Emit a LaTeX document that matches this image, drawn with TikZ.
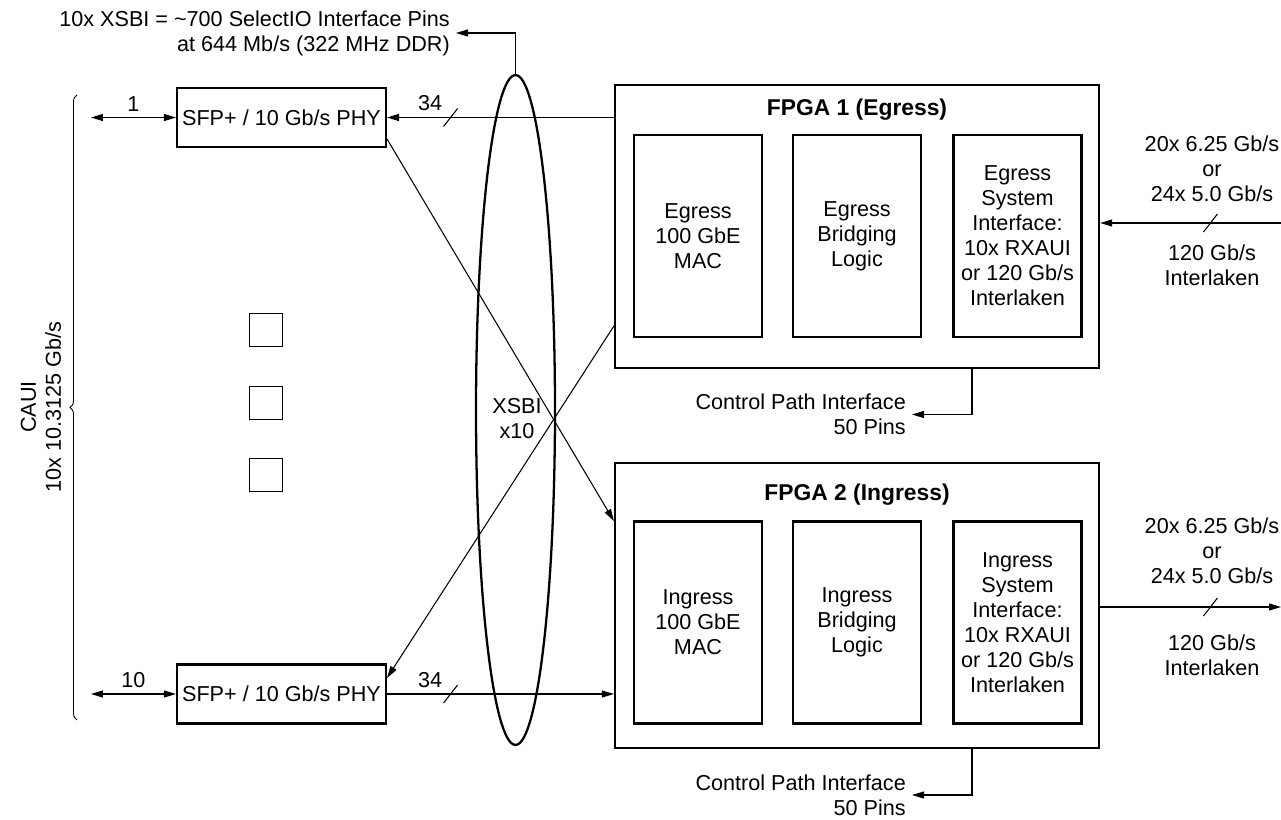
\documentclass[tikz,border=0pt]{standalone}
\usepackage{fontspec}
\setmainfont{Liberation Sans}
\usetikzlibrary{
  arrows.meta,
  positioning,
  shapes.geometric,
  calc,
  decorations.pathreplacing
}

\newcommand{\busmark}[1]{\draw[line width=0.6pt] ($(#1)+(-7,9)$) -- ($(#1)+(7,-9)$);}

\begin{document}
\begin{tikzpicture}[
  x=0.02cm, y=-0.02cm,
  font=\fontsize{12.3}{14.2}\selectfont,
  phy/.style={draw, line width=1.2pt, minimum width=4.18cm, minimum height=1.18cm, inner sep=0pt},
  fpga/.style={draw, line width=1.3pt, minimum width=9.68cm, minimum height=#1, inner sep=0pt},
  unit/.style={draw, line width=1.2pt, minimum width=2.56cm, minimum height=4.04cm,
               align=center, inner sep=0pt},
  dots/.style={draw, line width=0.9pt, minimum size=0.66cm, inner sep=0pt},
  title/.style={font=\fontsize{13}{15}\selectfont\bfseries},
  note/.style={align=center},
  arrow/.style={-{Triangle[length=2.4mm,width=1.4mm]}, line width=0.6pt},
  twoway/.style={{Triangle[length=2.4mm,width=1.4mm]}-{Triangle[length=2.4mm,width=1.4mm]}, line width=0.6pt},
]
  \useasboundingbox (0,0) rectangle (1281,820);

  \node[phy] (sfpA) at (281.5,117.5) {SFP+ / 10 Gb/s PHY};
  \node[phy] (sfpB) at (281.5,694) {SFP+ / 10 Gb/s PHY};
  \node[dots] (sq1) at (266,330) {};
  \node[dots] (sq2) at (266,403) {};
  \node[dots] (sq3) at (266,475) {};

  \node[fpga=5.66cm] (fpgaA) at (857,226.5) {};
  \node[title] (titleA) at (857,110) {FPGA 1 (Egress)};
  \node[unit] (macA) at (698,236) {Egress\\100 GbE\\MAC};
  \node[unit] (bridgeA) at (857,236) {Egress\\Bridging\\Logic};
  \node[unit] (sysA) at (1017.5,236) {Egress\\System\\Interface:\\10x RXAUI\\or 120 Gb/s\\Interlaken};

  \node[fpga=5.70cm] (fpgaB) at (857,605.5) {};
  \node[title] (titleB) at (857,495) {FPGA 2 (Ingress)};
  \node[unit] (macB) at (698,622.5) {Ingress\\100 GbE\\MAC};
  \node[unit] (bridgeB) at (857,622.5) {Ingress\\Bridging\\Logic};
  \node[unit] (sysB) at (1017.5,622.5) {Ingress\\System\\Interface:\\10x RXAUI\\or 120 Gb/s\\Interlaken};

  \node[draw, ellipse, line width=1.3pt, minimum width=1.58cm, minimum height=13.4cm,
        inner sep=0pt] (xsbi) at (515.5,410) {};
  \node[note] (xsbilbl) at (517,418.5) {XSBI\\x10};

  % line side
  \coordinate (capA) at (91,117.5);
  \coordinate (capB) at (91,694);
  \draw[twoway] (capA) -- (sfpA.west) node[midway,above] {1};
  \draw[twoway] (capB) -- (sfpB.west) node[midway,above] {10};
  \coordinate (braceT) at (77,95);
  \coordinate (braceB) at (77,720);
  \draw[decorate, decoration={brace, amplitude=0.14cm}, line width=0.5pt] (braceB) -- (braceT);
  \node[note, rotate=90] (caui) at (41,407) {CAUI\\10x 10.3125 Gb/s};

  % XSBI links
  \draw[arrow] (fpgaA.west |- sfpA) -- (sfpA.east)
    node[pos=0.81,above] {34} coordinate[pos=0.72] (busA);
  \draw[arrow] (sfpB.east) -- (fpgaB.west |- sfpB)
    node[pos=0.19,above] {34} coordinate[pos=0.28] (busB);
  \busmark{busA}
  \busmark{busB}
  \draw[arrow] ([yshift=-0.43cm]sfpA.east) -- ([yshift=1.69cm]fpgaB.west);
  \draw[arrow] ([yshift=-1.99cm]fpgaA.west) -- ([yshift=0.32cm]sfpB.east);

  \node[align=right, anchor=east] (pins) at (456,33)
    {10x XSBI = \textasciitilde700 SelectIO Interface Pins\\at 644 Mb/s (322 MHz DDR)};
  \draw[arrow] (xsbi.north) |- (pins.east);

  % control path
  \node[align=right, anchor=east] (ctlA) at (912,414.5) {Control Path Interface\\50 Pins};
  \node[align=right, anchor=east] (ctlB) at (912,795) {Control Path Interface\\50 Pins};
  \draw[arrow] ([xshift=2.3cm]fpgaA.south) |- (ctlA.east);
  \draw[arrow] ([xshift=2.3cm]fpgaB.south) |- (ctlB.east);

  % system side
  \coordinate (inA) at (1281,223);
  \coordinate (outB) at (1281,607);
  \draw[arrow] (inA) -- (fpgaA.east |- inA) coordinate[pos=0.39] (busC);
  \draw[arrow] (fpgaB.east |- outB) -- (outB) coordinate[pos=0.61] (busD);
  \busmark{busC}
  \busmark{busD}
  \node[note] (rateA) at (1212,169) {20x 6.25 Gb/s\\or\\24x 5.0 Gb/s};
  \node[note] (ilkA) at (1212,265.5) {120 Gb/s\\Interlaken};
  \node[note] (rateB) at (1212,551) {20x 6.25 Gb/s\\or\\24x 5.0 Gb/s};
  \node[note] (ilkB) at (1212,655) {120 Gb/s\\Interlaken};
\end{tikzpicture}
\end{document}
